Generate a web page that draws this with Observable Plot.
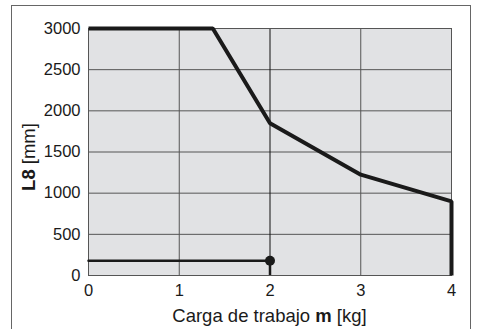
<!DOCTYPE html>
<html>
<head>
<meta charset="utf-8">
<script src="https://cdn.jsdelivr.net/npm/d3@7"></script>
<script src="https://cdn.jsdelivr.net/npm/@observablehq/plot@0.6"></script>
<style>
  html, body { margin: 0; padding: 0; background: #fff; }
  #wrap { position: relative; width: 478px; height: 329px; overflow: hidden; }
  #border { position: absolute; left: 11px; top: 5px; width: 460px; height: 340px; border: 1.5px solid #666; box-sizing: border-box; }
  #chart { position: absolute; left: 0; top: 0; }
</style>
</head>
<body>
<div id="wrap"><div id="border"></div><div id="chart"></div></div>
<script>
// Data
const mLimit = [0, 1.37, 2, 3, 4, 4];          // Carga de trabajo m [kg]
const L8Limit = [3000, 3000, 1850, 1225, 900, 0]; // L8 [mm]
const mExample = [0, 2];
const L8Example = [180, 180];
const xTicks = [0, 1, 2, 3, 4];
const yTicks = [0, 500, 1000, 1500, 2000, 2500, 3000];

const limit = mLimit.map((m, i) => ({m, L8: L8Limit[i]}));
const example = mExample.map((m, i) => ({m, L8: L8Example[i]}));
const dot = [example[example.length - 1]];

const font = "'Liberation Sans', Arial, sans-serif";

const chart = Plot.plot({
  width: 478,
  height: 329,
  marginLeft: 88,
  marginRight: 27,
  marginTop: 28,
  marginBottom: 54,
  style: {fontFamily: font, fontSize: "16.5px", color: "#1a1a1a", background: "transparent"},
  x: {domain: [0, 4], label: null},
  y: {domain: [0, 3000], label: null},
  marks: [
    Plot.frame({fill: "#e1e2e4", stroke: null}),
    Plot.gridX(xTicks.filter(d => d !== 2), {stroke: "#555", strokeOpacity: 1, strokeWidth: 1}),
    Plot.gridY(yTicks, {stroke: "#555", strokeOpacity: 1, strokeWidth: 1}),
    Plot.gridX([2], {stroke: "#111", strokeOpacity: 1, strokeWidth: 1}),
    Plot.frame({stroke: "#555", strokeWidth: 1}),
    Plot.ruleX(dot, {x: "m", y1: 0, y2: "L8", stroke: "#1a1a1a", strokeWidth: 2.5}),
    Plot.line(example, {x: "m", y: "L8", stroke: "#1a1a1a", strokeWidth: 2.5}),
    Plot.dot(dot, {x: "m", y: "L8", r: 5, fill: "#1a1a1a", stroke: null}),
    Plot.line(limit, {x: "m", y: "L8", stroke: "#1a1a1a", strokeWidth: 4, strokeLinejoin: "miter", strokeLinecap: "butt"}),
    Plot.axisX(xTicks, {tickSize: 0, tickPadding: 9, tickFormat: d3.format("d"), fontSize: 16.5, label: null}),
    Plot.axisY(yTicks, {tickSize: 0, tickPadding: 8, tickFormat: d3.format("d"), fontSize: 16.5, label: null})
  ]
});

const svg = d3.select(chart);
const xLab = svg.append("text")
  .attr("x", 269.5).attr("y", 322)
  .attr("text-anchor", "middle")
  .attr("fill", "#1a1a1a")
  .style("font-family", font)
  .style("font-size", "18.5px");
xLab.append("tspan").text("Carga de trabajo ");
xLab.append("tspan").attr("font-weight", "bold").text("m");
xLab.append("tspan").text(" [kg]");

const yLab = svg.append("text")
  .attr("transform", "translate(35,157) rotate(-90)")
  .attr("text-anchor", "middle")
  .attr("fill", "#1a1a1a")
  .style("font-family", font)
  .style("font-size", "18.5px");
yLab.append("tspan").attr("font-weight", "bold").text("L8");
yLab.append("tspan").text(" [mm]");

document.getElementById("chart").appendChild(chart);
</script>
</body>
</html>
